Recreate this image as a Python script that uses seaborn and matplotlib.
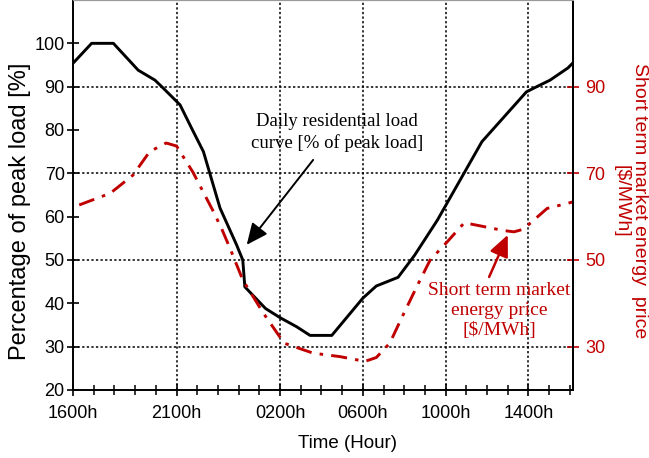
import matplotlib
matplotlib.use("Agg")
import matplotlib.pyplot as plt
from matplotlib.ticker import MultipleLocator
import seaborn as sns
import pandas as pd

# ---- data (hours elapsed since 16:00) ----
load_hours = [0.0, 0.9, 1.95, 3.15, 3.96, 4.35, 5.17, 5.73, 6.3, 7.1, 7.9, 8.2, 8.3,
              9.3, 10.0, 10.8, 11.45, 12.5, 14.0, 14.65, 15.7, 16.5, 17.6, 19.75,
              21.9, 22.4, 23.04, 23.9, 24.15]
load_pct = [95.4, 100.0, 100.0, 93.8, 91.5, 89.7, 85.8, 80.4, 75.0, 62.0, 53.5, 50.0, 43.8,
            38.8, 36.7, 34.6, 32.6, 32.6, 41.2, 44.0, 46.0, 51.1, 59.2, 77.3,
            88.8, 90.0, 91.5, 94.3, 95.5]

price_hours = [0.3, 1.8, 2.9, 3.7, 4.5, 5.0, 5.8, 6.8, 7.2, 7.6, 8.2, 9.2, 10.2, 11.6,
               12.9, 14.1, 14.65, 15.3, 15.9, 16.6, 17.25, 18.0, 18.9, 20.8, 21.3,
               21.75, 22.9, 24.15]
price = [62.7, 65.4, 69.6, 75.0, 77.0, 76.3, 70.2, 61.0, 57.0, 52.5, 45.4, 37.7, 30.8, 28.5,
         27.7, 26.6, 27.5, 30.8, 36.9, 43.8, 50.0, 53.8, 58.6, 56.8, 56.5,
         57.1, 61.9, 63.4]

xtick_pos = [0, 5, 10, 14, 18, 22]
xtick_labels = ["1600h", "2100h", "0200h", "0600h", "1000h", "1400h"]
left_ticks = [20, 30, 40, 50, 60, 70, 80, 90, 100]
right_ticks = [30, 50, 70, 90]

RED = "#C00000"

sns.set_theme(style="white")
plt.rcParams["font.family"] = ["Liberation Sans", "DejaVu Sans"]

fig = plt.figure(figsize=(6.49, 4.58), dpi=100)
ax = fig.add_axes([73 / 649, 68 / 458, 500 / 649, 390 / 458])

df_load = pd.DataFrame({"hour": load_hours, "load": load_pct})
df_price = pd.DataFrame({"hour": price_hours, "price": price})

sns.lineplot(data=df_load, x="hour", y="load", ax=ax, color="black", lw=2.1)
ax2 = ax.twinx()
sns.lineplot(data=df_price, x="hour", y="price", ax=ax2, color=RED, lw=2.1)
ax2.lines[0].set_dashes([5.5, 2.8, 1.2, 2.8])

for a in (ax, ax2):
    a.set_xlim(0, 24.15)
    a.set_ylim(20, 110)

# axes styling
ax.set_xticks(xtick_pos)
ax.set_xticklabels(xtick_labels)
ax.xaxis.set_minor_locator(MultipleLocator(1))
ax.set_yticks(left_ticks)
ax2.set_yticks(right_ticks)

ax.tick_params(axis="both", which="major", direction="inout", length=8, width=1.2,
               color="black", labelsize=13, labelcolor="black")
ax.tick_params(axis="x", which="minor", direction="inout", length=7, width=1.1,
               color="black", bottom=True)
ax.tick_params(axis="x", which="major", pad=6.5)
ax.tick_params(axis="y", which="major", pad=2, left=True)
ax.tick_params(axis="x", bottom=True)
ax2.tick_params(axis="y", which="major", direction="inout", length=8, width=1.2,
                color=RED, labelsize=13, labelcolor=RED, pad=5, right=True)

for s in ("left", "bottom"):
    ax.spines[s].set_color("black")
    ax.spines[s].set_linewidth(1.4)
ax2.spines["right"].set_color("black")
ax2.spines["right"].set_linewidth(1.4)
for a in (ax, ax2):
    a.spines["top"].set_color("#9a9a9a")
    a.spines["top"].set_linewidth(0.8)
ax2.spines["left"].set_visible(False)
ax2.spines["bottom"].set_visible(False)

# grids
ax.xaxis.grid(True, color="black", linestyle=(0, (1.5, 1.5)), linewidth=1.1)
ax.yaxis.grid(False)
ax2.yaxis.grid(True, color="black", linestyle=(0, (1.5, 1.5)), linewidth=1.1)
ax2.xaxis.grid(False)

# labels
ax.set_xlabel("Time (Hour)", fontsize=13.5, color="black", va="center")
ax.xaxis.set_label_coords(0.548, -0.136)
ax.set_ylabel("Percentage of peak load [%]", fontsize=17, color="black",
              va="center", ha="center")
ax.yaxis.set_label_coords(-0.106, 0.459)
ax2.set_ylabel("Short term market energy  price\n[$/MWh]", fontsize=14, color=RED,
               rotation=270, va="center", ha="center", linespacing=1.1)
ax2.yaxis.set_label_coords(1.114, 0.485)

# annotations
serif = ["Liberation Serif", "DejaVu Serif"]
ax.text(12.75, 79.5, "Daily residential load\ncurve [% of peak load]",
        family=serif, fontsize=13.5, color="black", ha="center", va="center",
        linespacing=1.3)
ax.annotate("", xy=(8.39, 53.5), xytext=(11.6, 73.1),
            arrowprops=dict(arrowstyle="-|>,head_length=1.0,head_width=0.45",
                            color="black", lw=1.4, shrinkA=0, shrinkB=0,
                            mutation_scale=13))
ax2.text(20.6, 38.3, "Short term market\nenergy price\n[$/MWh]",
         family=serif, fontsize=14, color=RED, ha="center", va="center",
         linespacing=1.25)
ax2.annotate("", xy=(21.0, 55.8), xytext=(20.1, 46.1),
             arrowprops=dict(arrowstyle="-|>,head_length=1.0,head_width=0.45",
                             color=RED, lw=1.8, shrinkA=0, shrinkB=0,
                             mutation_scale=13))

fig.savefig("out.png", dpi=100)
